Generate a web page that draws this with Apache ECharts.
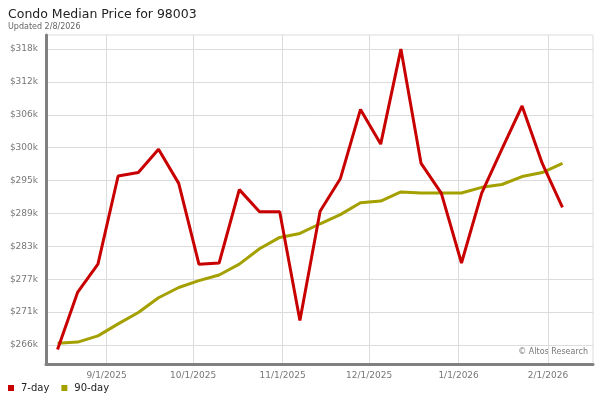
<!DOCTYPE html>
<html>
<head>
<meta charset="utf-8">
<script src="https://cdn.jsdelivr.net/npm/echarts@6/dist/echarts.min.js"></script>
<style>
html,body{margin:0;padding:0;background:#fff;}
#chart{width:600px;height:400px;}
</style>
</head>
<body>
<div id="chart"></div>
<script>
var dates = ['2025-08-15','2025-08-22','2025-08-29','2025-09-05','2025-09-12','2025-09-19','2025-09-26',
  '2025-10-03','2025-10-10','2025-10-17','2025-10-24','2025-10-31','2025-11-07','2025-11-14',
  '2025-11-21','2025-11-28','2025-12-05','2025-12-12','2025-12-19','2025-12-26','2026-01-02',
  '2026-01-09','2026-01-16','2026-01-23','2026-01-30','2026-02-06'];
var sevenDay = [264900,275000,279900,295400,296000,300100,294100,279900,280100,293000,289100,289100,
  270000,289200,294900,307100,301000,317700,297600,292400,280100,292400,300100,307700,297600,289900];
var ninetyDay = [266000,266200,267300,269400,271400,274000,275800,277000,278000,279900,282600,284600,
  285300,287000,288600,290700,291000,292600,292400,292400,292400,293400,293900,295300,296000,297600];
var yTickValues = [265700,271480,277260,283040,288820,294600,300380,306160,311940,317720];
var yTickLabels = ['$266k','$271k','$277k','$283k','$289k','$295k','$300k','$306k','$312k','$318k'];
var xTickDates = ['2025-09-01','2025-10-01','2025-11-01','2025-12-01','2026-01-01','2026-02-01'];
var xTickLabels = ['9/1/2025','10/1/2025','11/1/2025','12/1/2025','1/1/2026','2/1/2026'];
var seriesNames = ['7-day','90-day'];

function toTime(s){ var p = s.split('-'); return new Date(+p[0], +p[1]-1, +p[2]).getTime(); }
var xTicks = xTickDates.map(toTime);
var xMin = new Date(2025,7,11,0,0).getTime();
var xMax = new Date(2026,1,16,14,0).getTime();

var chart = echarts.init(document.getElementById('chart'), null, {renderer:'canvas'});
var font = 'DejaVu Sans';
chart.setOption({
  animation:false,
  backgroundColor:'#fff',
  textStyle:{fontFamily:font},
  title:{
    text:'Condo Median Price for 98003',
    subtext:'Updated 2/8/2026',
    left:3, top:3, itemGap:2,
    textStyle:{fontSize:12.5, fontWeight:'normal', color:'#222', fontFamily:font},
    subtextStyle:{fontSize:8, color:'#666', fontFamily:font}
  },
  legend:{
    left:3, top:378, itemWidth:6, itemHeight:6, itemGap:12,
    icon:'rect',
    textStyle:{fontSize:10, color:'#222', fontFamily:font, padding:[0,0,0,2]},
    data:seriesNames
  },
  grid:{left:46, top:35, right:7, bottom:36, containLabel:false,
        show:true, borderColor:'#dcdcdc', borderWidth:1},
  xAxis:{
    type:'value', min:xMin, max:xMax,
    axisLine:{show:true, lineStyle:{color:'#808080', width:3}},
    axisTick:{show:false, customValues:xTicks},
    axisLabel:{customValues:xTicks, color:'#777', fontSize:9, margin:7,
      formatter:function(v){ var i = xTicks.indexOf(v); return i>=0 ? xTickLabels[i] : ''; }},
    splitLine:{show:true, lineStyle:{color:'#dcdcdc', width:1}}
  },
  yAxis:{
    type:'value', min:262350, max:320180,
    axisLine:{show:true, lineStyle:{color:'#808080', width:3}},
    axisTick:{show:false, customValues:yTickValues},
    axisLabel:{customValues:yTickValues, color:'#777', fontSize:9, margin:8,
      formatter:function(v){ var i = yTickValues.indexOf(v); return i>=0 ? yTickLabels[i] : ''; }},
    splitLine:{show:true, lineStyle:{color:'#dcdcdc', width:1}}
  },
  graphic:[{
    type:'text', right:12, top:348,
    style:{text:'\u00a9 Altos Research', fill:'#777', font:'8px DejaVu Sans'}
  }],
  series:[
    {name:seriesNames[1], type:'line', showSymbol:false, symbol:'none', z:2,
     lineStyle:{color:'#a3a000', width:3}, itemStyle:{color:'#a3a000'},
     data:dates.map(function(d,i){ return [toTime(d), ninetyDay[i]]; })},
    {name:seriesNames[0], type:'line', showSymbol:false, symbol:'none', z:3,
     lineStyle:{color:'#c80000', width:3}, itemStyle:{color:'#c80000'},
     data:dates.map(function(d,i){ return [toTime(d), sevenDay[i]]; })}
  ]
});
</script>
</body>
</html>
